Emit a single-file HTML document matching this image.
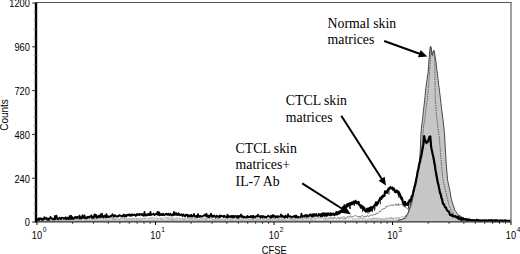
<!DOCTYPE html>
<html><head><meta charset="utf-8"><style>
html,body{margin:0;padding:0;background:#fff;width:520px;height:254px;overflow:hidden}
svg{display:block}
.s{font-family:"Liberation Sans",sans-serif;font-size:10px;fill:#000}
.r{font-family:"Liberation Serif",serif;font-size:13.8px;fill:#000}
</style></head><body>
<svg width="520" height="254" viewBox="0 0 520 254">
<rect width="520" height="254" fill="#fff"/>
<polygon points="37,222 37.0,220.3 38.0,220.2 39.0,220.5 40.0,220.2 41.0,220.4 42.0,220.3 43.0,220.2 44.0,220.4 45.0,220.2 46.0,220.4 47.0,220.2 48.0,220.2 49.0,220.4 50.0,220.6 51.0,220.2 52.0,220.3 53.0,220.5 54.0,220.6 55.0,220.4 56.0,220.3 57.0,220.6 58.0,220.2 59.0,220.6 60.0,220.3 61.0,220.2 62.0,220.2 63.0,220.3 64.0,220.5 65.0,220.2 66.0,220.4 67.0,220.5 68.0,220.3 69.0,220.4 70.0,220.2 71.0,220.2 72.0,220.2 73.0,220.5 74.0,220.3 75.0,220.3 76.0,220.4 77.0,220.4 78.0,220.3 79.0,220.5 80.0,220.5 81.0,220.3 82.0,220.4 83.0,220.4 84.0,220.6 85.0,220.5 86.0,220.3 87.0,220.6 88.0,220.2 89.0,220.3 90.0,220.5 91.0,220.2 92.0,220.4 93.0,220.1 94.0,220.5 95.0,220.5 96.0,220.4 97.0,220.6 98.0,220.3 99.0,220.5 100.0,220.4 101.0,220.4 102.0,220.4 103.0,220.5 104.0,220.6 105.0,220.4 106.0,220.5 107.0,220.2 108.0,220.5 109.0,220.4 110.0,220.6 111.0,220.5 112.0,220.3 113.0,220.3 114.0,220.5 115.0,220.1 116.0,220.4 117.0,220.2 118.0,220.2 119.0,220.1 120.0,220.5 121.0,220.2 122.0,220.2 123.0,220.3 124.0,220.6 125.0,220.2 126.0,220.3 127.0,220.4 128.0,220.6 129.0,220.5 130.0,220.5 131.0,220.3 132.0,220.3 133.0,220.3 134.0,220.6 135.0,220.6 136.0,220.2 137.0,220.2 138.0,220.2 139.0,220.2 140.0,220.4 141.0,220.4 142.0,220.2 143.0,220.1 144.0,220.3 145.0,220.3 146.0,220.4 147.0,220.6 148.0,220.5 149.0,220.4 150.0,220.4 151.0,220.4 152.0,220.1 153.0,220.6 154.0,220.5 155.0,220.5 156.0,220.5 157.0,220.3 158.0,220.3 159.0,220.2 160.0,220.4 161.0,220.1 162.0,220.1 163.0,220.2 164.0,220.2 165.0,220.3 166.0,220.1 167.0,220.1 168.0,220.2 169.0,220.2 170.0,220.3 171.0,220.1 172.0,220.5 173.0,220.4 174.0,220.2 175.0,220.2 176.0,220.3 177.0,220.3 178.0,220.2 179.0,220.5 180.0,220.6 181.0,220.3 182.0,220.3 183.0,220.1 184.0,220.1 185.0,220.3 186.0,220.2 187.0,220.5 188.0,220.2 189.0,220.1 190.0,220.6 191.0,220.4 192.0,220.2 193.0,220.4 194.0,220.1 195.0,220.4 196.0,220.6 197.0,220.5 198.0,220.4 199.0,220.2 200.0,220.3 201.0,220.2 202.0,220.5 203.0,220.4 204.0,220.5 205.0,220.3 206.0,220.2 207.0,220.5 208.0,220.6 209.0,220.5 210.0,220.5 211.0,220.5 212.0,220.5 213.0,220.2 214.0,220.3 215.0,220.3 216.0,220.1 217.0,220.1 218.0,220.2 219.0,220.2 220.0,220.4 221.0,220.6 222.0,220.3 223.0,220.5 224.0,220.6 225.0,220.6 226.0,220.3 227.0,220.2 228.0,220.2 229.0,220.2 230.0,220.2 231.0,220.4 232.0,220.5 233.0,220.5 234.0,220.3 235.0,220.4 236.0,220.5 237.0,220.1 238.0,220.4 239.0,220.5 240.0,220.5 241.0,220.4 242.0,220.3 243.0,220.2 244.0,220.5 245.0,220.2 246.0,220.5 247.0,220.6 248.0,220.3 249.0,220.3 250.0,220.5 251.0,220.4 252.0,220.2 253.0,220.1 254.0,220.1 255.0,220.5 256.0,220.5 257.0,220.1 258.0,220.5 259.0,220.6 260.0,220.4 261.0,220.2 262.0,220.3 263.0,220.1 264.0,220.1 265.0,220.5 266.0,220.4 267.0,220.3 268.0,220.5 269.0,220.3 270.0,220.5 271.0,220.5 272.0,220.2 273.0,220.2 274.0,220.2 275.0,220.2 276.0,220.4 277.0,220.2 278.0,220.3 279.0,220.1 280.0,220.5 281.0,220.2 282.0,220.3 283.0,220.3 284.0,220.5 285.0,220.3 286.0,220.5 287.0,220.3 288.0,220.3 289.0,220.3 290.0,220.1 291.0,220.3 292.0,220.1 293.0,220.1 294.0,220.5 295.0,220.1 296.0,220.3 297.0,220.4 298.0,220.3 299.0,220.2 300.0,220.3 301.0,220.3 302.0,220.4 303.0,220.1 304.0,220.3 305.0,220.2 306.0,220.2 307.0,220.4 308.0,220.3 309.0,220.3 310.0,220.4 311.0,220.5 312.0,220.3 313.0,220.3 314.0,220.3 315.0,220.3 316.0,220.4 317.0,220.3 318.0,220.3 319.0,220.3 320.0,220.5 321.0,220.4 322.0,220.5 323.0,220.5 324.0,220.2 325.0,220.3 326.0,220.5 327.0,220.4 328.0,220.1 329.0,220.1 330.0,220.2 331.0,220.1 332.0,220.1 333.0,220.1 334.0,220.4 335.0,220.4 336.0,220.5 337.0,220.1 338.0,220.4 339.0,220.3 340.0,220.1 341.0,220.4 342.0,220.5 343.0,220.1 344.0,220.5 345.0,220.2 346.0,220.2 347.0,220.5 348.0,220.4 349.0,220.1 350.0,220.2 351.0,220.3 352.0,220.2 353.0,220.1 354.0,220.2 355.0,220.4 356.0,220.0 357.0,220.3 358.0,220.2 359.0,220.0 360.0,220.2 361.0,220.3 362.0,220.2 363.0,220.0 364.0,220.5 365.0,220.4 366.0,220.5 367.0,220.0 368.0,220.1 369.0,220.0 370.0,220.4 371.0,220.1 372.0,220.0 373.0,220.2 374.0,220.4 375.0,220.4 376.0,220.1 377.0,220.0 378.0,220.4 379.0,220.3 380.0,220.3 381.0,220.0 382.0,220.0 383.0,220.3 384.0,220.2 385.0,220.0 386.0,220.4 387.0,220.3 388.0,220.4 389.0,220.0 390.0,220.4 391.0,220.0 392.0,220.4 393.0,220.2 394.0,220.1 395.0,220.2 396.0,220.4 397.0,220.1 398.0,220.0 399.0,220.1 400.0,219.8 401.0,219.6 402.0,219.4 403.0,218.8 404.0,218.4 405.0,217.9 406.0,216.2 407.0,214.8 408.0,212.9 409.0,210.0 410.0,206.8 411.0,203.4 412.0,199.8 413.0,195.4 414.0,190.8 415.0,186.1 416.0,181.0 417.0,175.3 418.0,170.0 419.0,163.6 419.5,159.8 420.0,153.9 420.3,150.0 420.9,134.0 421.0,133.0 421.7,124.9 422.0,123.1 422.5,120.1 423.0,115.2 423.5,109.9 424.0,106.0 424.7,100.1 425.0,96.8 425.8,88.0 426.0,86.6 426.7,81.8 427.0,79.6 427.5,75.8 428.0,72.4 428.3,69.9 428.8,61.8 429.0,59.4 429.3,56.2 429.7,51.2 430.0,48.9 430.3,46.5 430.9,46.3 431.0,47.0 431.4,50.0 432.0,54.8 432.8,53.0 433.0,52.1 433.5,50.5 434.0,50.7 434.1,50.5 434.9,54.9 435.0,55.9 436.0,61.9 436.9,69.9 437.0,70.5 437.8,76.9 438.0,78.7 438.6,84.0 439.0,87.0 440.0,95.0 441.0,103.5 441.6,108.9 442.0,111.9 443.0,119.9 444.0,129.1 444.5,133.8 445.0,142.8 445.4,149.9 446.0,160.0 446.3,165.0 447.0,173.2 447.6,180.1 448.0,181.9 449.0,186.6 449.8,189.9 450.0,191.1 451.0,197.3 451.5,199.8 452.0,201.6 453.0,204.6 454.0,207.3 454.8,210.2 455.0,210.5 456.0,211.7 457.0,213.1 458.0,214.5 458.5,214.8 459.0,215.3 460.0,215.8 461.0,216.5 462.0,217.1 463.0,217.6 464.0,218.1 464.5,218.5 465.0,218.5 466.0,218.8 467.0,218.8 468.0,219.0 469.0,219.3 470.0,219.7 471.0,219.8 472.0,220.5 473.0,220.4 474.0,220.4 475.0,220.4 476.0,220.5 477.0,220.4 478.0,220.2 479.0,220.6 480.0,220.6 481.0,220.6 482.0,220.6 483.0,220.7 484.0,220.4 485.0,220.8 486.0,220.6 487.0,220.5 488.0,220.6 489.0,220.9 490.0,220.7 491.0,220.9 492.0,221.1 493.0,220.8 494.0,220.8 495.0,220.8 496.0,220.9 497.0,221.0 498.0,220.9 499.0,221.0 500.0,220.7 501.0,220.7 502.0,220.8 503.0,221.0 504.0,220.8 505.0,221.0 506.0,220.7 507.0,220.7 508.0,220.9 509.0,221.1 510.0,221.1 511.0,221.1 511,222" fill="#c6c6c6"/>
<polyline points="398.0,220.0 399.0,220.1 400.0,219.8 401.0,219.6 402.0,219.4 403.0,218.8 404.0,218.4 405.0,217.9 406.0,216.2 407.0,214.8 408.0,212.9 409.0,210.0 410.0,206.8 411.0,203.4 412.0,199.8 413.0,195.4 414.0,190.8 415.0,186.1 416.0,181.0 417.0,175.3 418.0,170.0 419.0,163.6 419.5,159.8 420.0,153.9 420.3,150.0 420.9,134.0 421.0,133.0 421.7,124.9 422.0,123.1 422.5,120.1 423.0,115.2 423.5,109.9 424.0,106.0 424.7,100.1 425.0,96.8 425.8,88.0 426.0,86.6 426.7,81.8 427.0,79.6 427.5,75.8 428.0,72.4 428.3,69.9 428.8,61.8 429.0,59.4 429.3,56.2 429.7,51.2 430.0,48.9 430.3,46.5 430.9,46.3 431.0,47.0 431.4,50.0 432.0,54.8 432.8,53.0 433.0,52.1 433.5,50.5 434.0,50.7 434.1,50.5 434.9,54.9 435.0,55.9 436.0,61.9 436.9,69.9 437.0,70.5 437.8,76.9 438.0,78.7 438.6,84.0 439.0,87.0 440.0,95.0 441.0,103.5 441.6,108.9 442.0,111.9 443.0,119.9 444.0,129.1 444.5,133.8 445.0,142.8 445.4,149.9 446.0,160.0 446.3,165.0 447.0,173.2 447.6,180.1 448.0,181.9 449.0,186.6 449.8,189.9 450.0,191.1 451.0,197.3 451.5,199.8 452.0,201.6 453.0,204.6 454.0,207.3 454.8,210.2 455.0,210.5 456.0,211.7 457.0,213.1 458.0,214.5 458.5,214.8 459.0,215.3 460.0,215.8 461.0,216.5 462.0,217.1 463.0,217.6 464.0,218.1 464.5,218.5 465.0,218.5 466.0,218.8 467.0,218.8 468.0,219.0 469.0,219.3 470.0,219.7 471.0,219.8 472.0,220.5 473.0,220.4 474.0,220.4 475.0,220.4 476.0,220.5 477.0,220.4 478.0,220.2 479.0,220.6 480.0,220.6 481.0,220.6 482.0,220.6 483.0,220.7 484.0,220.4 485.0,220.8 486.0,220.6 487.0,220.5 488.0,220.6 489.0,220.9 490.0,220.7 491.0,220.9 492.0,221.1 493.0,220.8 494.0,220.8 495.0,220.8 496.0,220.9 497.0,221.0 498.0,220.9 499.0,221.0 500.0,220.7 501.0,220.7 502.0,220.8 503.0,221.0 504.0,220.8 505.0,221.0 506.0,220.7 507.0,220.7 508.0,220.9 509.0,221.1 510.0,221.1 511.0,221.1" fill="none" stroke="#222" stroke-width="0.8"/>
<polyline points="37.0,220.3 38.0,220.2 39.0,220.5 40.0,220.2 41.0,220.4 42.0,220.3 43.0,220.2 44.0,220.4 45.0,220.2 46.0,220.4 47.0,220.2 48.0,220.2 49.0,220.4 50.0,220.6 51.0,220.2 52.0,220.3 53.0,220.5 54.0,220.6 55.0,220.4 56.0,220.3 57.0,220.6 58.0,220.2 59.0,220.6 60.0,220.3 61.0,220.2 62.0,220.2 63.0,220.3 64.0,220.5 65.0,220.2 66.0,220.4 67.0,220.5 68.0,220.3 69.0,220.4 70.0,220.2 71.0,220.2 72.0,220.2 73.0,220.5 74.0,220.3 75.0,220.3 76.0,220.4 77.0,220.4 78.0,220.3 79.0,220.5 80.0,220.5 81.0,220.3 82.0,220.4 83.0,220.4 84.0,220.6 85.0,220.5 86.0,220.3 87.0,220.6 88.0,220.2 89.0,220.3 90.0,220.5 91.0,220.2 92.0,220.4 93.0,220.1 94.0,220.5 95.0,220.5 96.0,220.4 97.0,220.6 98.0,220.3 99.0,220.5 100.0,220.4 101.0,220.4 102.0,220.4 103.0,220.5 104.0,220.6 105.0,220.4 106.0,220.5 107.0,220.2 108.0,220.5 109.0,220.4 110.0,220.6 111.0,220.5 112.0,220.3 113.0,220.3 114.0,220.5 115.0,220.1 116.0,220.4 117.0,220.2 118.0,220.2 119.0,220.1 120.0,220.5 121.0,220.2 122.0,220.2 123.0,220.3 124.0,220.6 125.0,220.2 126.0,220.3 127.0,220.4 128.0,220.6 129.0,220.5 130.0,220.5 131.0,220.3 132.0,220.3 133.0,220.3 134.0,220.6 135.0,220.6 136.0,220.2 137.0,220.2 138.0,220.2 139.0,220.2 140.0,220.4 141.0,220.4 142.0,220.2 143.0,220.1 144.0,220.3 145.0,220.3 146.0,220.4 147.0,220.6 148.0,220.5 149.0,220.4 150.0,220.4 151.0,220.4 152.0,220.1 153.0,220.6 154.0,220.5 155.0,220.5 156.0,220.5 157.0,220.3 158.0,220.3 159.0,220.2 160.0,220.4 161.0,220.1 162.0,220.1 163.0,220.2 164.0,220.2 165.0,220.3 166.0,220.1 167.0,220.1 168.0,220.2 169.0,220.2 170.0,220.3 171.0,220.1 172.0,220.5 173.0,220.4 174.0,220.2 175.0,220.2 176.0,220.3 177.0,220.3 178.0,220.2 179.0,220.5 180.0,220.6 181.0,220.3 182.0,220.3 183.0,220.1 184.0,220.1 185.0,220.3 186.0,220.2 187.0,220.5 188.0,220.2 189.0,220.1 190.0,220.6 191.0,220.4 192.0,220.2 193.0,220.4 194.0,220.1 195.0,220.4 196.0,220.6 197.0,220.5 198.0,220.4 199.0,220.2 200.0,220.3 201.0,220.2 202.0,220.5 203.0,220.4 204.0,220.5 205.0,220.3 206.0,220.2 207.0,220.5 208.0,220.6 209.0,220.5 210.0,220.5 211.0,220.5 212.0,220.5 213.0,220.2 214.0,220.3 215.0,220.3 216.0,220.1 217.0,220.1 218.0,220.2 219.0,220.2 220.0,220.4 221.0,220.6 222.0,220.3 223.0,220.5 224.0,220.6 225.0,220.6 226.0,220.3 227.0,220.2 228.0,220.2 229.0,220.2 230.0,220.2 231.0,220.4 232.0,220.5 233.0,220.5 234.0,220.3 235.0,220.4 236.0,220.5 237.0,220.1 238.0,220.4 239.0,220.5 240.0,220.5 241.0,220.4 242.0,220.3 243.0,220.2 244.0,220.5 245.0,220.2 246.0,220.5 247.0,220.6 248.0,220.3 249.0,220.3 250.0,220.5 251.0,220.4 252.0,220.2 253.0,220.1 254.0,220.1 255.0,220.5 256.0,220.5 257.0,220.1 258.0,220.5 259.0,220.6 260.0,220.4 261.0,220.2 262.0,220.3 263.0,220.1 264.0,220.1 265.0,220.5 266.0,220.4 267.0,220.3 268.0,220.5 269.0,220.3 270.0,220.5 271.0,220.5 272.0,220.2 273.0,220.2 274.0,220.2 275.0,220.2 276.0,220.4 277.0,220.2 278.0,220.3 279.0,220.1 280.0,220.5 281.0,220.2 282.0,220.3 283.0,220.3 284.0,220.5 285.0,220.3 286.0,220.5 287.0,220.3 288.0,220.3 289.0,220.3 290.0,220.1 291.0,220.3 292.0,220.1 293.0,220.1 294.0,220.5 295.0,220.1 296.0,220.3 297.0,220.4 298.0,220.3 299.0,220.2 300.0,220.3 301.0,220.3 302.0,220.4 303.0,220.1 304.0,220.3 305.0,220.2 306.0,220.2 307.0,220.4 308.0,220.3 309.0,220.3 310.0,220.4 311.0,220.5 312.0,220.3 313.0,220.3 314.0,220.3 315.0,220.3 316.0,220.4 317.0,220.3 318.0,220.3 319.0,220.3 320.0,220.5 321.0,220.4 322.0,220.5 323.0,220.5 324.0,220.2 325.0,220.3 326.0,220.5 327.0,220.4 328.0,220.1 329.0,220.1 330.0,220.2 331.0,220.1 332.0,220.1 333.0,220.1 334.0,220.4 335.0,220.4 336.0,220.5 337.0,220.1 338.0,220.4 339.0,220.3 340.0,220.1 341.0,220.4 342.0,220.5 343.0,220.1 344.0,220.5 345.0,220.2 346.0,220.2 347.0,220.5 348.0,220.4 349.0,220.1 350.0,220.2 351.0,220.3 352.0,220.2 353.0,220.1 354.0,220.2 355.0,220.4 356.0,220.0 357.0,220.3 358.0,220.2 359.0,220.0 360.0,220.2 361.0,220.3 362.0,220.2 363.0,220.0 364.0,220.5 365.0,220.4 366.0,220.5 367.0,220.0 368.0,220.1 369.0,220.0 370.0,220.4 371.0,220.1 372.0,220.0 373.0,220.2 374.0,220.4 375.0,220.4 376.0,220.1 377.0,220.0 378.0,220.4 379.0,220.3 380.0,220.3 381.0,220.0 382.0,220.0 383.0,220.3 384.0,220.2 385.0,220.0 386.0,220.4 387.0,220.3 388.0,220.4 389.0,220.0 390.0,220.4 391.0,220.0 392.0,220.4 393.0,220.2 394.0,220.1 395.0,220.2 396.0,220.4 397.0,220.1 398.0,220.0" fill="none" stroke="#999" stroke-width="0.6"/>
<polyline points="398.0,220.6 399.0,219.8 400.0,219.6 401.0,219.9 402.0,219.5 403.0,219.0 404.0,218.4 405.0,218.8 406.0,217.2 407.0,215.8 408.0,214.4 409.0,211.3 410.0,207.9 411.0,204.2 412.0,200.8 413.0,196.5 414.0,192.0 415.0,186.8 416.0,181.7 417.0,176.6 418.0,171.1 419.0,165.3 419.8,161.4 420.0,159.8 421.0,152.9 421.5,149.9 422.0,144.5 422.8,134.8 423.0,133.2 423.8,124.6 424.0,123.8 424.8,120.3 425.0,118.1 426.0,108.1 427.0,101.6 427.3,100.0 428.0,93.0 428.3,89.8 429.0,79.6 429.3,75.0 430.0,65.4 430.6,55.1 431.0,47.9 431.5,51.7 432.0,54.2 432.3,56.2 433.0,53.6 433.3,52.7 434.0,51.0 434.1,51.0 434.7,60.3 435.0,80.1 435.3,100.2 436.0,108.4 436.5,114.6 437.0,119.4 437.7,124.9 438.0,127.7 439.0,135.7 439.5,139.7 440.0,146.5 441.0,159.7 442.0,170.3 443.0,180.1 444.0,184.2 445.0,188.5 446.0,192.8 446.5,194.6 447.0,197.3 448.0,201.1 449.0,205.4 450.0,207.3 451.0,209.8 452.0,211.8 453.0,212.6 454.0,214.3 455.0,215.3 456.0,215.9 457.0,217.3 458.0,217.6 459.0,217.6 460.0,218.2 461.0,218.8 462.0,218.8 463.0,219.5 464.0,219.3 465.0,219.5 466.0,219.9 467.0,219.6 468.0,219.7 469.0,220.3 470.0,220.1 471.0,220.4 472.0,220.1 473.0,220.0 474.0,220.2 475.0,220.0 476.0,220.7 477.0,220.1 478.0,220.3 479.0,220.0 480.0,220.3 481.0,220.2 482.0,220.2 483.0,220.0 484.0,220.0 485.0,220.6 486.0,220.2 487.0,220.1 488.0,220.1 489.0,220.1 490.0,220.1 491.0,219.9 492.0,220.4 493.0,220.2 494.0,220.0 495.0,220.5 496.0,220.0 497.0,220.1 498.0,220.6 499.0,220.0 500.0,220.3 501.0,220.6 502.0,220.5 503.0,220.0 504.0,220.2 505.0,220.5 506.0,220.2 507.0,220.7 508.0,220.1 509.0,220.7 510.0,220.3 511.0,220.1" fill="none" stroke="#444" stroke-width="0.8" stroke-dasharray="1.5 0.9"/>
<polyline points="37.0,219.2 37.7,218.6 38.4,219.7 39.1,218.8 39.8,220.1 40.5,219.5 41.2,219.0 41.9,218.8 42.6,219.5 43.3,218.7 44.0,220.0 44.7,218.5 45.4,219.3 46.1,219.4 46.8,218.8 47.5,219.8 48.2,219.1 48.9,219.6 49.6,219.4 50.3,218.9 51.0,219.1 51.7,218.5 52.4,218.6 53.1,220.0 53.8,218.9 54.5,219.6 55.2,218.5 55.9,219.4 56.6,219.0 57.3,219.3 58.0,218.9 58.7,218.4 59.4,218.9 60.1,218.7 60.8,218.5 61.5,219.7 62.2,218.8 62.9,219.1 63.6,220.1 64.3,219.8 65.0,220.0 65.7,220.0 66.4,218.5 67.1,218.8 67.8,218.3 68.5,219.6 69.2,219.6 69.9,219.0 70.6,219.1 71.3,219.6 72.0,219.7 72.7,218.8 73.4,220.0 74.1,219.0 74.8,219.5 75.5,218.6 76.2,218.5 76.9,220.1 77.6,219.7 78.3,219.7 79.0,218.3 79.7,218.3 80.4,218.6 81.1,218.6 81.8,218.9 82.5,219.0 83.2,218.3 83.9,218.9 84.6,219.5 85.3,218.6 86.0,219.9 86.7,219.4 87.4,219.7 88.1,218.8 88.8,219.1 89.5,219.6 90.2,218.9 90.9,218.2 91.6,219.9 92.3,219.8 93.0,218.8 93.7,218.3 94.4,219.9 95.1,219.4 95.8,218.3 96.5,218.7 97.2,218.5 97.9,219.8 98.6,218.7 99.3,220.1 100.0,219.7 100.7,218.4 101.4,219.6 102.1,219.0 102.8,219.7 103.5,219.9 104.2,218.8 104.9,218.4 105.6,220.1 106.3,219.1 107.0,220.1 107.7,219.6 108.4,219.7 109.1,219.9 109.8,219.5 110.5,219.1 111.2,218.3 111.9,219.6 112.6,219.1 113.3,219.2 114.0,220.1 114.7,218.5 115.4,219.7 116.1,218.3 116.8,219.6 117.5,219.8 118.2,218.7 118.9,219.3 119.6,220.1 120.3,219.5 121.0,219.3 121.7,218.7 122.4,218.3 123.1,218.9 123.8,219.0 124.5,218.6 125.2,218.8 125.9,218.5 126.6,219.6 127.3,219.5 128.0,218.7 128.7,218.7 129.4,219.2 130.1,219.1 130.8,220.1 131.5,218.9 132.2,218.8 132.9,220.0 133.6,218.5 134.3,219.3 135.0,218.9 135.7,219.8 136.4,219.3 137.1,219.7 137.8,218.5 138.5,219.5 139.2,219.4 139.9,219.1 140.6,219.7 141.3,219.8 142.0,218.4 142.7,218.8 143.4,218.9 144.1,218.6 144.8,218.3 145.5,218.7 146.2,218.6 146.9,219.6 147.6,219.1 148.3,218.4 149.0,218.8 149.7,219.1 150.4,218.9 151.1,218.5 151.8,218.3 152.5,218.2 153.2,220.2 153.9,219.7 154.6,218.3 155.3,219.6 156.0,220.1 156.7,219.3 157.4,218.4 158.1,219.1 158.8,219.0 159.5,218.5 160.2,219.2 160.9,218.2 161.6,220.0 162.3,219.4 163.0,219.4 163.7,220.0 164.4,219.5 165.1,218.7 165.8,218.6 166.5,218.4 167.2,218.2 167.9,219.7 168.6,219.8 169.3,218.7 170.0,218.5 170.7,219.4 171.4,219.8 172.1,220.0 172.8,218.5 173.5,219.7 174.2,219.8 174.9,219.6 175.6,218.8 176.3,218.5 177.0,219.8 177.7,218.8 178.4,218.9 179.1,219.2 179.8,218.9 180.5,219.8 181.2,218.6 181.9,218.2 182.6,219.3 183.3,219.4 184.0,219.8 184.7,219.5 185.4,219.9 186.1,220.0 186.8,219.1 187.5,219.1 188.2,218.4 188.9,218.7 189.6,219.3 190.3,218.3 191.0,219.5 191.7,218.5 192.4,219.0 193.1,220.1 193.8,218.3 194.5,218.2 195.2,219.0 195.9,218.5 196.6,219.6 197.3,218.1 198.0,219.8 198.7,219.8 199.4,219.7 200.1,219.0 200.8,218.7 201.5,219.4 202.2,219.1 202.9,219.0 203.6,218.8 204.3,219.0 205.0,219.4 205.7,219.8 206.4,219.9 207.1,218.4 207.8,218.7 208.5,219.0 209.2,219.2 209.9,218.8 210.6,218.5 211.3,218.3 212.0,218.7 212.7,219.0 213.4,220.0 214.1,219.9 214.8,219.8 215.5,220.0 216.2,220.0 216.9,219.3 217.6,219.7 218.3,218.2 219.0,219.4 219.7,219.3 220.4,218.7 221.1,219.2 221.8,220.0 222.5,219.0 223.2,219.4 223.9,218.7 224.6,218.8 225.3,219.9 226.0,218.1 226.7,218.5 227.4,219.4 228.1,219.0 228.8,218.3 229.5,219.4 230.2,218.8 230.9,219.2 231.6,218.9 232.3,219.1 233.0,219.2 233.7,218.9 234.4,218.3 235.1,218.4 235.8,219.9 236.5,219.2 237.2,218.3 237.9,219.8 238.6,218.6 239.3,218.3 240.0,219.1 240.7,218.6 241.4,219.0 242.1,219.2 242.8,218.5 243.5,219.2 244.2,218.3 244.9,219.1 245.6,219.2 246.3,218.2 247.0,218.9 247.7,218.2 248.4,218.9 249.1,219.8 249.8,219.2 250.5,219.5 251.2,219.6 251.9,218.3 252.6,220.0 253.3,219.5 254.0,218.3 254.7,219.7 255.4,218.8 256.1,218.4 256.8,220.0 257.5,219.2 258.2,219.6 258.9,218.3 259.6,219.6 260.3,218.2 261.0,218.5 261.7,218.8 262.4,218.1 263.1,219.2 263.8,218.5 264.5,218.6 265.2,219.5 265.9,218.9 266.6,219.8 267.3,219.3 268.0,219.8 268.7,219.2 269.4,219.9 270.1,219.8 270.8,218.4 271.5,219.5 272.2,218.7 272.9,219.6 273.6,219.4 274.3,219.7 275.0,218.3 275.7,218.8 276.4,219.5 277.1,219.9 277.8,219.5 278.5,218.1 279.2,219.2 279.9,218.2 280.6,219.1 281.3,219.6 282.0,218.2 282.7,219.9 283.4,219.4 284.1,218.5 284.8,218.4 285.5,218.9 286.2,219.7 286.9,219.2 287.6,218.2 288.3,218.1 289.0,218.2 289.7,219.6 290.4,218.4 291.1,219.1 291.8,218.6 292.5,219.4 293.2,218.8 293.9,218.3 294.6,219.8 295.3,219.1 296.0,219.4 296.7,219.6 297.4,219.9 298.1,218.0 298.8,218.7 299.5,218.3 300.0,219.0 300.2,219.7 300.9,219.6 301.6,218.0 302.3,218.2 303.0,219.5 303.7,219.2 304.4,218.6 305.1,218.7 305.8,218.0 306.5,219.4 307.2,218.4 307.9,219.4 308.6,218.8 309.3,217.7 310.0,218.2 310.7,217.9 311.4,219.2 312.1,218.6 312.8,217.4 313.5,217.7 314.2,218.0 314.9,218.2 315.6,218.4 316.3,218.0 317.0,217.9 317.7,217.1 318.4,218.2 319.1,217.7 319.8,217.1 320.0,217.9 320.5,219.0 321.2,217.1 321.9,217.3 322.6,218.3 323.3,217.5 324.0,217.5 324.7,217.9 325.4,217.4 326.1,218.0 326.8,217.9 327.5,218.8 328.2,218.8 328.9,216.9 329.6,217.9" fill="none" stroke="#888" stroke-width="0.8" stroke-dasharray="1.2 0.9"/>
<polyline points="330.3,218.3 331.0,218.5 331.7,218.3 332.4,218.0 333.1,218.0 333.8,217.4 334.5,217.3 335.2,218.3 335.9,218.4 336.6,218.5 337.3,218.0 338.0,217.2 338.7,218.2 339.4,218.1 340.1,217.6 340.8,217.9 341.5,217.3 342.2,217.7 342.9,217.4 343.6,216.6 344.3,217.2 345.0,217.1 345.7,218.4 346.4,217.3 347.1,216.9 347.8,216.6 348.5,216.5 349.2,216.6 349.9,216.1 350.6,215.7 351.3,217.3 352.0,216.4 352.7,216.4 353.4,216.6 354.1,216.0 354.8,215.8 355.5,215.5 356.2,216.0 356.9,216.0 357.6,216.8 358.3,216.4 359.0,217.2 359.7,216.0 360.4,217.1 361.1,216.4 361.8,215.4 362.5,215.6 363.2,216.3 363.9,217.1 364.6,215.9 365.3,216.7 366.0,216.0 366.7,216.8 367.4,215.2 368.1,216.0 368.8,216.8 369.5,215.6 370.0,215.5 370.2,215.0 370.9,215.1 371.6,215.1 372.3,215.7 373.0,214.5 373.7,214.7 374.4,214.1 375.0,214.7 375.1,215.2 375.8,214.3 376.5,213.0 377.2,213.6 377.9,213.7 378.6,212.5 379.3,211.1 380.0,212.1 380.7,211.7 381.4,210.1 382.1,209.1 382.8,208.7 383.5,208.8 384.2,209.0 384.9,208.0 385.6,208.0 386.3,206.0 386.8,205.9 387.0,206.7 387.7,206.4 388.4,205.8 389.1,206.2 389.8,205.5 390.5,204.8 391.2,205.4 391.9,204.6 392.0,205.8 392.6,205.1 393.3,205.3 394.0,205.4 394.7,204.6 395.4,204.9 396.1,203.8 396.8,205.6 397.5,204.7 398.2,205.4 398.6,203.5 398.9,204.7 399.6,205.1 400.3,204.5 401.0,204.2 401.7,204.5 402.4,204.7 403.1,206.1 403.3,204.8 403.8,206.6 404.5,206.2 405.2,206.9 405.9,207.5 406.6,207.9 406.9,208.3 407.3,208.6 408.0,208.7 408.7,210.2 409.0,209.5 409.4,209.6 410.1,208.3 410.8,207.0 411.0,205.6 411.5,204.5 412.2,202.2 412.9,198.3 413.0,197.6" fill="none" stroke="#666" stroke-width="0.8"/>
<polyline points="37.0,220.3 37.6,219.4 38.2,219.0 38.8,220.5 39.4,218.5 40.0,220.1 40.6,218.3 41.2,219.8 41.8,219.2 42.4,220.4 43.0,218.3 43.6,219.6 44.2,219.2 44.8,220.5 45.4,220.6 46.0,219.7 46.6,218.7 47.2,218.7 47.8,218.8 48.4,219.2 49.0,218.7 49.6,218.6 50.2,220.0 50.8,219.7 51.4,218.8 52.0,220.6 52.6,218.6 53.2,219.5 53.8,218.4 54.4,220.3 55.0,220.3 55.6,218.7 56.2,219.9 56.8,220.1 57.4,218.7 58.0,218.8 58.6,219.2 59.2,220.3 59.8,218.4 60.4,219.7 61.0,219.5 61.6,219.1 62.2,219.4 62.8,220.2 63.4,218.5 64.0,220.2 64.6,218.8 65.2,219.9 65.8,220.1 66.4,218.3 67.0,220.1 67.6,220.4 68.2,218.6 68.8,217.9 69.4,218.1 70.0,220.4 70.6,217.9 71.2,220.2 71.8,218.2 72.4,219.7 73.0,218.1 73.6,218.2 74.2,219.6 74.8,218.0 75.4,218.7 76.0,220.2 76.6,219.6 77.2,220.0 77.8,220.3 78.4,217.8 79.0,218.3 79.6,219.8 80.2,219.5 80.8,217.8 81.4,219.0 82.0,218.3 82.6,218.8 83.2,218.0 83.8,217.7 84.4,220.2 85.0,218.5 85.6,219.9 86.2,218.0 86.8,218.9 87.4,218.0 88.0,218.7 88.6,218.1 89.2,219.4 89.8,218.0 90.4,219.5 91.0,218.9 91.6,217.9 92.2,218.5 92.8,218.9 93.4,220.0 94.0,218.5 94.6,218.1 95.2,220.1 95.8,219.8 96.4,219.4 97.0,218.2 97.6,218.0 98.2,218.2 98.8,217.7 99.4,217.6 100.0,218.8 100.6,218.6 101.2,218.9 101.8,218.4 102.4,217.5 103.0,219.3 103.6,219.2 104.2,218.9 104.8,218.9 105.4,219.2 106.0,220.0 106.6,219.7 107.2,219.3 107.8,218.5 108.4,218.3 109.0,218.5 109.6,219.9 110.2,218.4 110.8,218.4 111.4,218.5 112.0,217.8 112.6,220.0 113.2,217.4 113.8,219.0 114.4,219.8 115.0,218.0 115.6,219.0 116.2,218.3 116.8,218.0 117.4,217.9 118.0,217.7 118.6,219.5 119.2,219.4 119.8,219.7 120.4,217.5 121.0,219.1 121.6,218.2 122.2,219.0 122.8,218.7 123.4,218.1 124.0,219.8 124.6,217.3 125.2,219.2 125.8,219.5 126.4,218.6 127.0,218.8 127.6,219.9 128.2,217.9 128.8,218.9 129.4,219.2 130.0,218.2 130.6,219.1 131.2,218.3 131.8,218.6 132.4,218.8 133.0,219.0 133.6,218.1 134.2,218.9 134.8,218.6 135.4,217.8 136.0,218.8 136.6,217.9 137.2,219.6 137.8,218.4 138.4,219.1 139.0,218.5 139.6,218.4 140.2,217.7 140.8,217.5 141.4,219.6 142.0,218.5 142.6,218.5 143.2,218.5 143.8,219.2 144.4,217.8 145.0,217.6 145.6,219.3 146.2,218.3 146.8,218.8 147.4,219.3 148.0,219.4 148.6,219.4 149.2,217.2 149.8,218.1 150.4,219.2 151.0,219.2 151.6,217.4 152.2,217.5 152.8,217.7 153.4,217.3 154.0,218.0 154.6,219.1 155.2,218.4 155.8,218.2 156.4,217.3 157.0,218.1 157.6,219.6 158.2,218.8 158.8,218.2 159.4,218.2 160.0,219.1 160.6,219.0 161.2,217.4 161.8,218.8 162.4,218.0 163.0,218.4 163.6,217.7 164.2,218.0 164.8,217.9 165.4,218.1 166.0,217.1 166.6,217.6 167.2,218.6 167.8,217.2 168.4,217.6 169.0,219.0 169.6,217.8 170.2,218.0 170.8,217.8 171.4,219.3 172.0,217.4 172.6,218.8 173.2,219.4 173.8,217.7 174.4,218.3 175.0,219.2 175.6,218.8 176.2,218.2 176.8,217.3 177.4,218.4 178.0,218.2 178.6,219.1 179.2,218.0 179.8,218.3 180.4,218.9 181.0,219.4 181.6,218.2 182.2,218.3 182.8,218.8 183.4,219.7 184.0,217.8 184.6,219.8 185.2,219.1 185.8,218.3 186.4,219.0 187.0,218.2 187.6,217.5 188.2,219.3 188.8,218.3 189.4,218.7 190.0,218.6 190.6,219.7 191.2,219.3 191.8,217.4 192.4,218.9 193.0,218.6 193.6,218.6 194.2,219.6 194.8,218.5 195.4,218.6 196.0,219.7 196.6,218.6 197.2,218.7 197.8,218.8 198.4,219.6 199.0,219.2 199.6,219.4 200.2,218.5 200.8,217.6 201.4,219.3 202.0,218.9 202.6,219.5 203.2,219.5 203.8,217.8 204.4,218.1 205.0,217.7 205.6,219.7 206.2,217.8 206.8,217.8 207.4,219.5 208.0,219.0 208.6,217.7 209.2,219.3 209.8,219.4 210.4,218.8 211.0,217.7 211.6,219.4 212.2,218.7 212.8,219.1 213.4,220.2 214.0,219.8 214.6,219.9 215.2,218.0 215.8,218.5 216.4,219.0 217.0,217.7 217.6,220.2 218.2,218.4 218.8,218.4 219.4,218.5 220.0,218.4 220.6,219.9 221.2,219.1 221.8,219.0 222.4,218.8 223.0,217.8 223.6,218.5 224.2,220.0 224.8,219.8 225.4,219.9 226.0,218.4 226.6,218.2 227.2,217.8 227.8,219.1 228.4,218.7 229.0,218.9 229.6,219.0 230.2,219.2 230.8,218.7 231.4,219.8 232.0,218.2 232.6,220.1 233.2,219.1 233.8,217.8 234.4,218.5 235.0,219.1 235.6,218.8 236.2,219.2 236.8,218.5 237.4,218.4 238.0,219.8 238.6,218.5 239.2,219.5 239.8,219.8 240.4,219.2 241.0,218.9 241.6,220.1 242.2,218.9 242.8,220.0 243.4,217.9 244.0,218.8 244.6,219.4 245.2,217.8 245.8,219.9 246.4,217.9 247.0,219.3 247.6,218.2 248.2,220.1 248.8,219.2 249.4,219.8 250.0,219.0 250.6,219.5 251.2,219.5 251.8,218.5 252.4,218.2 253.0,219.9 253.6,218.1 254.2,220.1 254.8,218.2 255.4,218.0 256.0,217.9 256.6,219.7 257.2,220.2 257.8,218.8 258.4,219.4 259.0,218.4 259.6,220.1 260.2,219.5 260.8,218.1 261.4,217.8 262.0,219.5 262.6,217.8 263.2,219.9 263.8,218.5 264.4,218.3 265.0,219.2 265.6,218.5 266.2,219.2 266.8,218.1 267.4,220.1 268.0,218.5 268.6,219.9 269.2,218.1 269.8,219.8 270.4,220.2 271.0,218.7 271.6,217.8 272.2,218.7 272.8,219.4 273.4,218.3 274.0,219.1 274.6,217.9 275.2,218.9 275.8,219.6 276.4,218.8 277.0,219.5 277.6,218.0 278.2,219.9 278.8,218.0 279.4,220.1 280.0,220.3 280.6,220.1 281.2,219.1 281.8,218.5 282.4,218.6 283.0,219.7 283.6,219.0 284.2,220.1 284.8,217.9 285.4,219.0 286.0,219.9 286.6,219.3 287.2,219.1 287.8,217.9 288.4,218.1 289.0,218.4 289.6,220.0 290.2,219.9 290.8,218.3 291.4,220.1 292.0,217.8 292.6,219.3 293.2,220.2 293.8,218.6 294.4,220.2 295.0,219.4 295.6,217.8 296.2,218.6 296.8,218.9 297.4,218.3 298.0,219.6 298.6,218.2 299.2,219.7 299.8,218.5 300.0,217.9 300.4,219.1 301.0,217.9 301.6,219.1 302.2,219.7 302.8,219.2 303.4,218.8 304.0,217.7 304.6,219.0 305.2,217.9 305.8,219.3 306.4,217.9 307.0,219.1 307.6,218.5 308.2,218.5 308.8,219.3 309.4,218.0 310.0,218.0 310.6,220.0 311.2,218.4 311.8,219.7 312.4,219.8 313.0,218.7 313.6,217.9 314.2,217.7 314.8,219.7 315.4,217.7 316.0,218.7 316.6,218.8 317.2,217.7 317.8,218.6 318.4,217.8 319.0,218.8 319.6,218.7 320.2,218.3 320.8,217.9 321.4,218.4 322.0,217.9 322.6,217.7 323.2,217.9 323.8,219.6 324.4,218.6 325.0,219.6 325.6,217.3 326.2,219.7 326.8,218.5 327.4,219.3 328.0,218.7 328.6,219.0 329.2,217.8 329.8,219.2 330.0,217.6 330.4,217.9 331.0,217.3 331.6,218.2 332.2,218.5 332.8,217.9 333.4,219.5 334.0,217.4 334.6,218.7 335.2,217.8 335.8,218.7 336.4,219.2 337.0,219.0 337.6,217.3 338.2,217.8 338.8,218.7 339.4,219.7 340.0,217.2 340.6,218.7 341.2,218.9 341.8,219.2 342.4,218.0 343.0,219.2 343.6,218.3 344.2,219.5 344.8,217.1 345.4,219.5 346.0,218.2 346.6,218.1 347.2,217.3 347.8,217.7 348.4,219.0 349.0,218.8 349.6,217.5 350.2,218.0 350.8,217.4 351.4,217.6 352.0,217.6 352.6,217.9 353.2,219.6 353.8,219.6 354.4,219.1 355.0,218.3 355.6,218.3 356.2,219.1 356.8,219.4 357.4,219.0 358.0,218.7 358.6,217.5 359.2,218.6 359.8,219.2 360.0,219.0 360.4,217.2 361.0,218.9 361.6,217.9 362.2,217.4 362.8,219.5 363.4,218.8 364.0,219.0 364.6,217.4 365.2,219.2 365.8,219.5 366.4,219.4 367.0,219.0 367.6,219.3 368.2,219.2 368.8,218.6 369.4,218.2 370.0,219.3 370.6,219.2 371.2,219.4 371.8,217.9 372.4,219.7 373.0,218.5 373.6,219.6 374.2,217.5 374.8,219.7 375.4,219.2 376.0,217.9 376.6,219.4 377.2,217.8 377.8,217.7 378.4,218.4 379.0,217.9 379.6,218.5 380.2,219.6 380.8,219.0 381.4,219.1 382.0,218.3 382.6,219.3 383.2,219.4 383.8,219.1 384.4,219.8 385.0,219.5 385.6,218.4 386.2,217.6 386.8,219.0 387.4,219.5 388.0,218.2 388.6,218.9 389.2,219.5 389.8,219.4 390.4,217.4 391.0,218.7 391.6,217.4 392.2,217.7 392.8,219.5 393.4,218.5 394.0,219.0 394.6,218.6 395.2,218.3 395.8,218.0 396.4,218.4 397.0,219.7 397.6,219.1 398.2,218.2 398.8,217.7 399.4,218.2 400.0,219.3" fill="none" stroke="#a8a8a8" stroke-width="0.8"/>
<polyline points="377.0,219.2 378.0,219.6 379.0,218.7 380.0,218.6 381.0,219.0 382.0,219.1 383.0,219.2 384.0,218.7 385.0,219.3 386.0,218.5 387.0,218.9 388.0,218.2 389.0,218.0 390.0,218.1 391.0,217.9 392.0,218.3 393.0,218.3 394.0,217.8 395.0,218.5 396.0,217.8 397.0,217.5 398.0,217.5 399.0,217.8 400.0,217.8 401.0,216.9 402.0,216.5 403.0,217.0 404.0,216.2 404.5,216.8 405.0,215.8 406.0,215.1 407.0,213.8" fill="none" stroke="#999" stroke-width="0.6"/>
<polyline points="37.0,219.2 37.5,219.1 38.0,220.0 38.5,220.2 39.0,218.1 39.5,219.8 40.0,219.0 40.5,218.4 41.0,218.4 41.5,218.3 42.0,220.0 42.5,219.7 43.0,219.8 43.5,218.4 44.0,218.9 44.5,217.1 45.0,218.8 45.5,218.1 46.0,218.5 46.5,217.8 47.0,219.6 47.5,219.8 48.0,219.7 48.5,218.5 49.0,219.9 49.5,218.5 50.0,218.3 50.5,216.8 51.0,218.2 51.5,218.1 52.0,218.7 52.5,218.4 53.0,219.5 53.5,218.9 54.0,219.6 54.5,219.1 55.0,215.9 55.5,219.1 56.0,218.1 56.5,215.6 57.0,218.4 57.5,218.0 58.0,219.5 58.5,218.8 59.0,218.6 59.5,217.7 60.0,217.8 60.5,218.4 61.0,219.3 61.5,218.2 62.0,217.7 62.5,218.0 63.0,217.7 63.5,218.4 64.0,218.8 64.5,218.0 65.0,217.9 65.5,217.2 66.0,219.2 66.5,218.2 67.0,218.9 67.5,217.6 68.0,217.9 68.5,219.1 69.0,218.9 69.5,216.2 70.0,218.9 70.5,218.2 71.0,215.7 71.5,218.7 72.0,219.0 72.5,217.1 73.0,218.0 73.5,218.9 74.0,218.2 74.5,217.8 75.0,216.8 75.5,217.3 76.0,218.1 76.5,217.0 77.0,218.1 77.5,216.9 78.0,217.8 78.5,217.5 79.0,217.9 79.5,215.5 80.0,218.7 80.5,218.5 81.0,217.1 81.5,218.6 82.0,217.2 82.5,215.2 83.0,217.4 83.5,217.9 84.0,216.9 84.5,215.3 85.0,217.9 85.5,218.1 86.0,217.5 86.5,218.4 87.0,218.1 87.5,216.7 88.0,216.9 88.5,217.3 89.0,216.7 89.5,217.6 90.0,216.4 90.5,216.5 91.0,216.4 91.5,215.2 92.0,218.0 92.5,217.6 93.0,218.0 93.5,216.3 94.0,217.5 94.5,214.3 95.0,216.6 95.5,216.1 96.0,214.7 96.5,217.8 97.0,217.8 97.5,216.4 98.0,217.4 98.5,215.7 99.0,216.4 99.5,216.0 100.0,217.5 100.5,214.3 101.0,217.1 101.5,214.7 102.0,213.6 102.5,217.0 103.0,216.1 103.5,217.5 104.0,215.9 104.5,216.0 105.0,215.3 105.5,217.3 106.0,217.3 106.5,214.2 107.0,217.3 107.5,216.0 108.0,216.1 108.5,217.2 109.0,216.9 109.5,216.9 110.0,216.4 110.5,215.7 111.0,216.7 111.5,215.4 112.0,215.5 112.5,214.2 113.0,215.7 113.5,216.9 114.0,215.5 114.5,215.1 115.0,216.4 115.5,215.3 116.0,216.2 116.5,216.4 117.0,216.2 117.5,216.6 118.0,216.0 118.5,216.3 119.0,215.2 119.5,215.0 120.0,215.9 120.5,215.5 121.0,215.7 121.5,216.3 122.0,216.7 122.5,215.6 123.0,216.4 123.5,214.6 124.0,214.7 124.5,216.6 125.0,216.5 125.5,216.3 126.0,214.9 126.5,216.4 127.0,215.6 127.5,214.8 128.0,214.6 128.5,214.8 129.0,215.7 129.5,214.2 130.0,215.7 130.5,214.9 131.0,215.9 131.5,214.3 132.0,215.0 132.5,215.5 133.0,214.4 133.5,215.0 134.0,214.7 134.5,214.7 135.0,214.8 135.5,215.9 136.0,214.7 136.5,215.5 137.0,213.9 137.5,214.8 138.0,214.8 138.5,214.9 139.0,213.9 139.5,215.2 140.0,214.0 140.5,214.6 141.0,214.1 141.5,214.9 142.0,214.0 142.5,215.5 143.0,214.2 143.5,215.8 144.0,214.8 144.5,211.9 145.0,215.7 145.5,215.5 146.0,215.4 146.5,214.5 147.0,215.5 147.5,214.1 148.0,214.8 148.5,213.9 149.0,215.2 149.5,213.7 150.0,215.2 150.5,211.8 151.0,214.9 151.5,214.9 152.0,214.4 152.5,214.4 153.0,214.5 153.5,213.5 154.0,214.5 154.5,215.1 155.0,214.4 155.5,214.5 156.0,213.7 156.5,213.6 157.0,214.5 157.5,211.9 158.0,215.0 158.5,214.5 159.0,212.0 159.5,215.4 160.0,215.2 160.5,214.9 161.0,213.7 161.5,214.4 162.0,215.3 162.5,215.1 163.0,213.5 163.5,215.0 164.0,215.3 164.5,215.2 165.0,214.5 165.5,213.8 166.0,214.5 166.5,213.5 167.0,213.7 167.5,214.9 168.0,213.8 168.5,213.7 169.0,214.8 169.5,215.3 170.0,214.7 170.5,213.7 171.0,214.8 171.5,215.2 172.0,215.6 172.5,214.3 173.0,214.4 173.5,215.1 174.0,211.8 174.5,214.9 175.0,214.8 175.5,214.2 176.0,212.9 176.5,215.0 177.0,214.8 177.5,214.0 178.0,215.2 178.5,213.1 179.0,214.1 179.5,214.4 180.0,215.3 180.5,215.4 181.0,214.4 181.5,214.6 182.0,214.4 182.5,216.1 183.0,215.1 183.5,214.3 184.0,215.6 184.5,215.8 185.0,216.5 185.5,215.0 186.0,214.6 186.5,215.5 187.0,214.7 187.5,214.7 188.0,216.8 188.5,215.2 189.0,215.9 189.5,216.6 190.0,215.6 190.5,215.0 191.0,216.6 191.5,214.9 192.0,216.6 192.5,216.6 193.0,215.5 193.5,215.5 194.0,213.9 194.5,216.5 195.0,216.6 195.5,216.2 196.0,216.8 196.5,215.6 197.0,217.2 197.5,217.0 198.0,214.0 198.5,216.7 199.0,216.7 199.5,217.0 200.0,215.6 200.5,216.5 201.0,216.6 201.5,216.2 202.0,216.7 202.5,216.1 203.0,216.4 203.5,215.6 204.0,215.4 204.5,215.5 205.0,214.4 205.5,216.0 206.0,215.3 206.5,213.7 207.0,216.8 207.5,215.4 208.0,216.1 208.5,217.1 209.0,215.4 209.5,217.3 210.0,215.5 210.5,215.6 211.0,213.6 211.5,216.7 212.0,216.7 212.5,215.6 213.0,217.0 213.5,216.1 214.0,215.4 214.5,216.0 215.0,216.2 215.5,217.5 216.0,217.3 216.5,215.5 217.0,216.4 217.5,216.2 218.0,216.6 218.5,217.3 219.0,217.2 219.5,215.4 220.0,217.1 220.5,215.5 221.0,216.5 221.5,215.9 222.0,216.2 222.5,216.0 223.0,216.1 223.5,217.0 224.0,215.7 224.5,215.7 225.0,217.0 225.5,216.9 226.0,216.4 226.5,217.5 227.0,217.5 227.5,214.6 228.0,217.5 228.5,216.4 229.0,216.0 229.5,216.7 230.0,217.2 230.5,216.3 231.0,215.9 231.5,217.0 232.0,215.9 232.5,217.3 233.0,215.8 233.5,217.5 234.0,216.0 234.5,217.1 235.0,215.9 235.5,216.1 236.0,216.7 236.5,216.3 237.0,217.7 237.5,215.8 238.0,215.8 238.5,217.8 239.0,217.2 239.5,216.0 240.0,215.8 240.5,216.5 241.0,214.4 241.5,217.2 242.0,217.0 242.5,215.9 243.0,216.5 243.5,217.6 244.0,216.9 244.5,216.6 245.0,217.2 245.5,217.4 246.0,217.5 246.5,217.1 247.0,216.4 247.5,215.9 248.0,217.4 248.5,217.1 249.0,216.6 249.5,217.1 250.0,217.2 250.5,216.1 251.0,217.4 251.5,216.8 252.0,215.8 252.5,216.0 253.0,217.8 253.5,215.9 254.0,216.9 254.5,216.8 255.0,217.5 255.5,216.6 256.0,216.1 256.5,216.5 257.0,215.9 257.5,216.5 258.0,214.6 258.5,215.7 259.0,216.6 259.5,216.4 260.0,216.2 260.5,217.7 261.0,216.1 261.5,216.5 262.0,215.9 262.5,217.4 263.0,216.7 263.5,216.1 264.0,216.4 264.5,217.4 265.0,216.7 265.5,216.8 266.0,217.5 266.5,217.5 267.0,216.5 267.5,216.6 268.0,215.6 268.5,216.2 269.0,216.3 269.5,216.6 270.0,217.1 270.5,217.7 271.0,215.7 271.5,217.6 272.0,215.9 272.5,217.0 273.0,214.9 273.5,217.0 274.0,215.8 274.5,216.1 275.0,216.4 275.5,217.6 276.0,216.0 276.5,216.9 277.0,217.1 277.5,217.3 278.0,216.0 278.5,216.8 279.0,216.5 279.5,216.8 280.0,216.1 280.5,216.7 281.0,214.3 281.5,216.7 282.0,216.8 282.5,215.6 283.0,216.6 283.5,217.0 284.0,216.4 284.5,217.7 285.0,217.0 285.5,215.6 286.0,217.1 286.5,216.3 287.0,216.7 287.5,217.5 288.0,214.0 288.5,216.3 289.0,216.3 289.5,216.7 290.0,216.0 290.5,216.5 291.0,217.4 291.5,217.4 292.0,216.6 292.5,216.6 293.0,217.0 293.5,216.3 294.0,216.2 294.5,216.9 295.0,215.6 295.5,217.5 296.0,215.6 296.5,215.5 297.0,217.5 297.5,217.0 298.0,217.5 298.5,216.9 299.0,217.0 299.5,217.0 300.0,217.0 300.5,217.1 301.0,215.8 301.5,213.7 302.0,216.8 302.5,217.1 303.0,216.5 303.5,215.8 304.0,215.8 304.5,216.5 305.0,215.2 305.5,215.1 306.0,216.7 306.5,216.9 307.0,214.9 307.5,216.1 308.0,216.9 308.5,215.6 309.0,216.1 309.5,215.0 310.0,214.3 310.5,214.3 311.0,216.1 311.5,214.5 312.0,216.8 312.5,214.3 313.0,216.5 313.5,214.3 314.0,214.0 314.5,215.9 315.0,214.5 315.5,215.9 316.0,214.3 316.5,213.9 317.0,215.8 317.5,215.6 318.0,216.0 318.5,215.6 319.0,213.7 319.5,215.2 320.0,215.4 320.5,214.7 321.0,216.0 321.5,214.1 322.0,216.0" fill="none" stroke="#000" stroke-width="1.7" stroke-linejoin="round"/>
<path d="M349.0 204.4v3.1 M349.5 204.1v4.8 M350.5 203.6v5.4 M352.5 202.8v2.1 M353.5 202.5v2.7 M354.5 202.4v3.6 M362.5 207.6v4.7 M365.5 209.8v2.7 M368.0 209.8v4.2 M369.5 209.4v3.2 M371.0 208.8v2.9 M371.5 208.5v2.2 M372.5 208.0v4.0 M374.5 206.6v4.3 M375.0 206.0v3.5 M380.5 198.9v5.5 M383.5 195.5v2.3 M389.0 189.6v5.2 M394.5 190.8v2.1 M398.5 193.1v4.5 M399.0 193.7v2.8 M402.5 200.9v2.9 M403.5 202.6v2.6 M405.0 204.2v3.3 M408.0 203.9v2.1 M408.5 203.5v5.2 M410.0 201.6v4.2" stroke="#111" stroke-width="0.8" fill="none"/>
<polyline points="320.0,215.4 320.5,214.7 321.0,216.0 321.5,214.1 322.0,216.0 322.5,215.3 323.0,213.3 323.5,213.3 324.0,215.1 324.5,215.6 325.0,213.5 325.5,214.1 326.0,215.3 326.5,213.7 327.0,215.6 327.5,214.5 328.0,213.3 328.5,214.2 329.0,214.7 329.5,214.3 330.0,215.0 330.5,213.4 331.0,215.2 331.5,213.9 332.0,214.6 332.5,214.5 333.0,213.8 333.5,213.7 334.0,214.7 334.5,215.1 335.0,214.5 335.5,213.9 336.0,213.0 336.5,212.1 337.0,214.5 337.5,213.5 338.0,213.6 338.5,212.0 339.0,212.5 339.5,213.4 340.0,212.7 340.5,210.8 341.0,212.0 341.5,210.9 342.0,211.0 342.5,208.9 343.0,207.2 343.5,208.8 344.0,209.2 344.5,205.4 345.0,208.3 345.5,206.2 346.0,207.2 346.5,207.1 347.0,204.3 347.5,206.0 348.0,205.6 348.5,203.9 349.0,204.9 349.5,203.3 350.0,204.5 350.5,203.5 351.0,204.3 351.5,202.5 352.0,204.1 352.5,202.9 353.0,202.9 353.5,201.7 354.0,203.0 354.5,202.5 355.0,202.3 355.5,200.9 356.0,202.2 356.5,203.3 357.0,202.3 357.5,203.2 358.0,202.7 358.5,201.9 359.0,204.8 359.5,204.5 360.0,205.4 360.5,206.7 361.0,207.7 361.5,205.5 362.0,206.3 362.5,206.3 363.0,209.0 363.5,209.6 364.0,207.5 364.5,208.8 365.0,210.7 365.5,210.0 366.0,211.5 366.5,209.8 367.0,209.0 367.5,211.2 368.0,208.5 368.5,209.2 369.0,210.7 369.5,208.1 370.0,209.9 370.5,210.4 371.0,207.1 371.5,209.7 372.0,207.7 372.5,208.7 373.0,207.2 373.5,206.4 374.0,206.3 374.5,205.6 375.0,204.6 375.5,204.5 376.0,202.3 376.5,205.3 377.0,204.6 377.5,202.7 378.0,203.4 378.5,201.9 379.0,200.4 379.5,200.1 380.0,198.5 380.5,197.7 381.0,198.5 381.5,198.8 382.0,197.0 382.5,196.0 383.0,195.6 383.5,195.5 384.0,196.1 384.5,195.7 385.0,191.4 385.5,192.4 386.0,192.0 386.5,191.2 387.0,192.8 387.5,192.1 388.0,189.7 388.5,188.7 389.0,189.1 389.5,187.9 390.0,188.5 390.5,187.2 391.0,188.4 391.5,188.2 392.0,187.8 392.5,187.7 393.0,189.6 393.5,188.6 394.0,188.6 394.5,190.8 395.0,190.7 395.5,192.2 396.0,192.0 396.5,190.7 397.0,191.8 397.5,191.0 398.0,191.9 398.5,194.1 399.0,192.3 399.5,194.3 400.0,194.3 400.5,197.2 401.0,196.6 401.5,199.0 402.0,198.0 402.5,200.9 403.0,202.4 403.5,203.6 404.0,204.1 404.5,204.6 405.0,201.8 405.5,204.6 406.0,205.0 406.5,204.0 407.0,204.1 407.5,203.3 408.0,204.8 408.5,201.9 409.0,202.0 409.5,200.2 410.0,201.7 410.5,199.9 411.0,200.2 411.5,196.6 412.0,196.8 412.5,195.4 413.0,193.4 413.5,190.8 414.0,189.4 414.5,186.5 415.0,185.6 415.5,183.6 416.0,180.6 416.5,178.3 417.0,175.8 417.5,172.3 418.0,170.4 418.5,168.4 419.0,165.5 419.5,163.4 420.0,161.7 420.3,160.0 420.5,158.9 421.0,157.2 421.5,154.7 422.0,151.8 422.5,149.0 423.0,146.4 423.3,144.9 423.5,143.6 423.8,140.4 424.0,138.4 424.2,136.2 424.5,137.8 425.0,139.5 425.5,140.9 426.0,142.2 426.5,143.0 427.0,141.9 427.5,141.7 428.0,141.7 428.5,139.8 429.0,138.5 429.5,136.5 430.0,136.5 430.3,136.3 430.5,138.5 431.0,145.6 431.5,148.9 432.0,151.0 432.5,153.5 433.0,155.5 433.5,158.0 434.0,160.5 434.5,163.8 435.0,166.1 435.5,170.2 436.0,172.5 436.5,175.8 437.0,178.1 437.3,180.1 437.5,181.4 438.0,183.3 438.5,185.2 439.0,187.8 439.5,189.9 440.0,193.3 440.5,193.4 441.0,195.5 441.5,198.4 442.0,198.9 442.5,201.5 443.0,203.8 443.5,203.8 444.0,204.4 444.5,205.9 445.0,207.1 445.5,207.0 446.0,207.9 446.5,209.0 447.0,210.0 447.5,210.8 448.0,211.1 448.5,211.5 449.0,211.6 449.5,213.5 450.0,214.8 450.5,214.8 451.0,215.2 451.5,215.6 452.0,214.6 452.5,216.2 453.0,215.7 453.5,216.2 454.0,216.6 454.5,216.4 455.0,216.2 455.5,216.2 456.0,216.4 456.5,217.4 457.0,217.2 457.5,218.0 458.0,216.6 458.5,217.7 459.0,219.2 459.5,217.6 460.0,218.6 460.5,218.5 461.0,218.1 461.5,220.2 462.0,218.3 462.5,219.2 463.0,218.7 463.5,218.7 464.0,219.6 464.5,219.3 465.0,219.0 465.5,219.5 466.0,219.6 466.5,220.0 467.0,219.4 467.5,219.5 468.0,220.3 468.5,220.1 469.0,219.5 469.5,219.7 470.0,219.8 470.5,220.1 471.0,220.1 471.5,220.4 472.0,220.4 472.5,220.1 473.0,220.3 473.5,220.4 474.0,220.4 474.5,220.2 475.0,220.5 475.5,220.5 476.0,220.7 476.5,219.9 477.0,220.7 477.5,219.9 478.0,220.7 478.5,220.5 479.0,220.4 479.5,220.9 480.0,220.6 480.5,220.4 481.0,220.8 481.5,220.9 482.0,220.6 482.5,220.4 483.0,220.5 483.5,220.5 484.0,220.8 484.5,220.3 485.0,220.4 485.5,220.6 486.0,220.4 486.5,220.4 487.0,220.9 487.5,220.9 488.0,220.6 488.5,220.5 489.0,220.3 489.5,220.4 490.0,220.2 490.5,220.7 491.0,220.7 491.5,220.2 492.0,221.0 492.5,220.4 493.0,221.0 493.5,221.0 494.0,221.1 494.5,220.3 495.0,220.6 495.5,221.1 496.0,220.2 496.5,220.2 497.0,220.7 497.5,220.7 498.0,221.1 498.5,221.0 499.0,220.7 499.5,221.2 500.0,220.7 500.5,220.7 501.0,220.9 501.5,220.6 502.0,220.6 502.5,220.8 503.0,220.6 503.5,221.2 504.0,220.9 504.5,220.8 505.0,220.3 505.5,220.6 506.0,220.7 506.5,220.8 507.0,220.8 507.5,221.1 508.0,221.2 508.5,220.8 509.0,220.7 509.5,220.9 510.0,221.3 510.5,220.6 511.0,220.8" fill="none" stroke="#000" stroke-width="2.2" stroke-linejoin="round"/>
<line x1="36" y1="2.5" x2="511.8" y2="2.5" stroke="#555" stroke-width="1.1"/>
<line x1="511" y1="2.5" x2="511" y2="222" stroke="#888" stroke-width="1.6"/>
<line x1="36" y1="221.9" x2="511" y2="221.9" stroke="#333" stroke-width="1.1"/>
<line x1="36" y1="2.5" x2="36" y2="222.5" stroke="#000" stroke-width="2.4"/>
<line x1="32.2" y1="222.00" x2="36" y2="222.00" stroke="#222" stroke-width="1"/><line x1="33.6" y1="213.24" x2="36" y2="213.24" stroke="#777" stroke-width="0.8"/><line x1="33.6" y1="204.48" x2="36" y2="204.48" stroke="#777" stroke-width="0.8"/><line x1="33.6" y1="195.72" x2="36" y2="195.72" stroke="#777" stroke-width="0.8"/><line x1="33.6" y1="186.96" x2="36" y2="186.96" stroke="#777" stroke-width="0.8"/><line x1="32.2" y1="178.20" x2="36" y2="178.20" stroke="#222" stroke-width="1"/><line x1="33.6" y1="169.44" x2="36" y2="169.44" stroke="#777" stroke-width="0.8"/><line x1="33.6" y1="160.68" x2="36" y2="160.68" stroke="#777" stroke-width="0.8"/><line x1="33.6" y1="151.92" x2="36" y2="151.92" stroke="#777" stroke-width="0.8"/><line x1="33.6" y1="143.16" x2="36" y2="143.16" stroke="#777" stroke-width="0.8"/><line x1="32.2" y1="134.40" x2="36" y2="134.40" stroke="#222" stroke-width="1"/><line x1="33.6" y1="125.64" x2="36" y2="125.64" stroke="#777" stroke-width="0.8"/><line x1="33.6" y1="116.88" x2="36" y2="116.88" stroke="#777" stroke-width="0.8"/><line x1="33.6" y1="108.12" x2="36" y2="108.12" stroke="#777" stroke-width="0.8"/><line x1="33.6" y1="99.36" x2="36" y2="99.36" stroke="#777" stroke-width="0.8"/><line x1="32.2" y1="90.60" x2="36" y2="90.60" stroke="#222" stroke-width="1"/><line x1="33.6" y1="81.84" x2="36" y2="81.84" stroke="#777" stroke-width="0.8"/><line x1="33.6" y1="73.08" x2="36" y2="73.08" stroke="#777" stroke-width="0.8"/><line x1="33.6" y1="64.32" x2="36" y2="64.32" stroke="#777" stroke-width="0.8"/><line x1="33.6" y1="55.56" x2="36" y2="55.56" stroke="#777" stroke-width="0.8"/><line x1="32.2" y1="46.80" x2="36" y2="46.80" stroke="#222" stroke-width="1"/><line x1="33.6" y1="38.04" x2="36" y2="38.04" stroke="#777" stroke-width="0.8"/><line x1="33.6" y1="29.28" x2="36" y2="29.28" stroke="#777" stroke-width="0.8"/><line x1="33.6" y1="20.52" x2="36" y2="20.52" stroke="#777" stroke-width="0.8"/><line x1="33.6" y1="11.76" x2="36" y2="11.76" stroke="#777" stroke-width="0.8"/><line x1="32.2" y1="3.00" x2="36" y2="3.00" stroke="#222" stroke-width="1"/>
<line x1="37.00" y1="222" x2="37.00" y2="225" stroke="#000" stroke-width="1"/><line x1="72.67" y1="222" x2="72.67" y2="223.8" stroke="#000" stroke-width="0.8"/><line x1="93.54" y1="222" x2="93.54" y2="223.8" stroke="#000" stroke-width="0.8"/><line x1="108.34" y1="222" x2="108.34" y2="223.8" stroke="#000" stroke-width="0.8"/><line x1="119.83" y1="222" x2="119.83" y2="223.8" stroke="#000" stroke-width="0.8"/><line x1="129.21" y1="222" x2="129.21" y2="223.8" stroke="#000" stroke-width="0.8"/><line x1="137.14" y1="222" x2="137.14" y2="223.8" stroke="#000" stroke-width="0.8"/><line x1="144.02" y1="222" x2="144.02" y2="223.8" stroke="#000" stroke-width="0.8"/><line x1="150.08" y1="222" x2="150.08" y2="223.8" stroke="#000" stroke-width="0.8"/><line x1="155.50" y1="222" x2="155.50" y2="225" stroke="#000" stroke-width="1"/><line x1="191.17" y1="222" x2="191.17" y2="223.8" stroke="#000" stroke-width="0.8"/><line x1="212.04" y1="222" x2="212.04" y2="223.8" stroke="#000" stroke-width="0.8"/><line x1="226.84" y1="222" x2="226.84" y2="223.8" stroke="#000" stroke-width="0.8"/><line x1="238.33" y1="222" x2="238.33" y2="223.8" stroke="#000" stroke-width="0.8"/><line x1="247.71" y1="222" x2="247.71" y2="223.8" stroke="#000" stroke-width="0.8"/><line x1="255.64" y1="222" x2="255.64" y2="223.8" stroke="#000" stroke-width="0.8"/><line x1="262.52" y1="222" x2="262.52" y2="223.8" stroke="#000" stroke-width="0.8"/><line x1="268.58" y1="222" x2="268.58" y2="223.8" stroke="#000" stroke-width="0.8"/><line x1="274.00" y1="222" x2="274.00" y2="225" stroke="#000" stroke-width="1"/><line x1="309.67" y1="222" x2="309.67" y2="223.8" stroke="#000" stroke-width="0.8"/><line x1="330.54" y1="222" x2="330.54" y2="223.8" stroke="#000" stroke-width="0.8"/><line x1="345.34" y1="222" x2="345.34" y2="223.8" stroke="#000" stroke-width="0.8"/><line x1="356.83" y1="222" x2="356.83" y2="223.8" stroke="#000" stroke-width="0.8"/><line x1="366.21" y1="222" x2="366.21" y2="223.8" stroke="#000" stroke-width="0.8"/><line x1="374.14" y1="222" x2="374.14" y2="223.8" stroke="#000" stroke-width="0.8"/><line x1="381.02" y1="222" x2="381.02" y2="223.8" stroke="#000" stroke-width="0.8"/><line x1="387.08" y1="222" x2="387.08" y2="223.8" stroke="#000" stroke-width="0.8"/><line x1="392.50" y1="222" x2="392.50" y2="225" stroke="#000" stroke-width="1"/><line x1="428.17" y1="222" x2="428.17" y2="223.8" stroke="#000" stroke-width="0.8"/><line x1="449.04" y1="222" x2="449.04" y2="223.8" stroke="#000" stroke-width="0.8"/><line x1="463.84" y1="222" x2="463.84" y2="223.8" stroke="#000" stroke-width="0.8"/><line x1="475.33" y1="222" x2="475.33" y2="223.8" stroke="#000" stroke-width="0.8"/><line x1="484.71" y1="222" x2="484.71" y2="223.8" stroke="#000" stroke-width="0.8"/><line x1="492.64" y1="222" x2="492.64" y2="223.8" stroke="#000" stroke-width="0.8"/><line x1="499.52" y1="222" x2="499.52" y2="223.8" stroke="#000" stroke-width="0.8"/><line x1="505.58" y1="222" x2="505.58" y2="223.8" stroke="#000" stroke-width="0.8"/><line x1="511" y1="222" x2="511" y2="225" stroke="#000" stroke-width="1"/>
<g class="s"><text x="0" y="0" transform="translate(29.9 226.40) scale(0.93 1)" text-anchor="end">0</text><text x="0" y="0" transform="translate(29.9 182.60) scale(0.93 1)" text-anchor="end">240</text><text x="0" y="0" transform="translate(29.9 138.80) scale(0.93 1)" text-anchor="end">480</text><text x="0" y="0" transform="translate(29.9 95.00) scale(0.93 1)" text-anchor="end">720</text><text x="0" y="0" transform="translate(29.9 51.20) scale(0.93 1)" text-anchor="end">960</text><text x="0" y="0" transform="translate(29.9 7.40) scale(0.93 1)" text-anchor="end">1200</text><g transform="translate(37.00 239.0) scale(0.93 1)"><text x="0" y="0" text-anchor="middle">10</text><text x="6.2" y="-7.3" font-size="7.2">0</text></g><g transform="translate(155.50 239.0) scale(0.93 1)"><text x="0" y="0" text-anchor="middle">10</text><text x="6.2" y="-7.3" font-size="7.2">1</text></g><g transform="translate(274.00 239.0) scale(0.93 1)"><text x="0" y="0" text-anchor="middle">10</text><text x="6.2" y="-7.3" font-size="7.2">2</text></g><g transform="translate(392.50 239.0) scale(0.93 1)"><text x="0" y="0" text-anchor="middle">10</text><text x="6.2" y="-7.3" font-size="7.2">3</text></g><g transform="translate(511.00 239.0) scale(0.93 1)"><text x="0" y="0" text-anchor="middle">10</text><text x="6.2" y="-7.3" font-size="7.2">4</text></g>
<text transform="translate(8.1 115) rotate(-90)" text-anchor="middle">Counts</text>
<text transform="translate(274.2 254.0) scale(0.93 1)" text-anchor="middle">CFSE</text>
</g>
<g class="r">
<text transform="translate(327.6 27.8)">Normal skin</text><text transform="translate(327.6 44.2)">matrices</text>
<text transform="translate(285.8 105.2)">CTCL skin</text><text transform="translate(285.8 121.5)">matrices</text>
<text transform="translate(235.6 152.9)">CTCL skin</text><text transform="translate(235.6 169.1)">matrices+</text><text transform="translate(235.6 185.5)">IL-7 Ab</text>
</g>
<line x1="384.2" y1="41" x2="420.24" y2="53.96" stroke="#000" stroke-width="2"/><polygon points="427.3,56.5 418.02,57.20 420.59,50.05" fill="#000"/>
<line x1="341.3" y1="115.7" x2="382.12" y2="179.53" stroke="#000" stroke-width="2"/><polygon points="386,185.6 378.55,180.63 384.62,176.75" fill="#000"/>
<line x1="302.2" y1="183.4" x2="344.05" y2="210.01" stroke="#000" stroke-width="2"/><polygon points="350.8,214.3 341.06,212.85 345.35,206.10" fill="#000"/>
</svg>
</body></html>
